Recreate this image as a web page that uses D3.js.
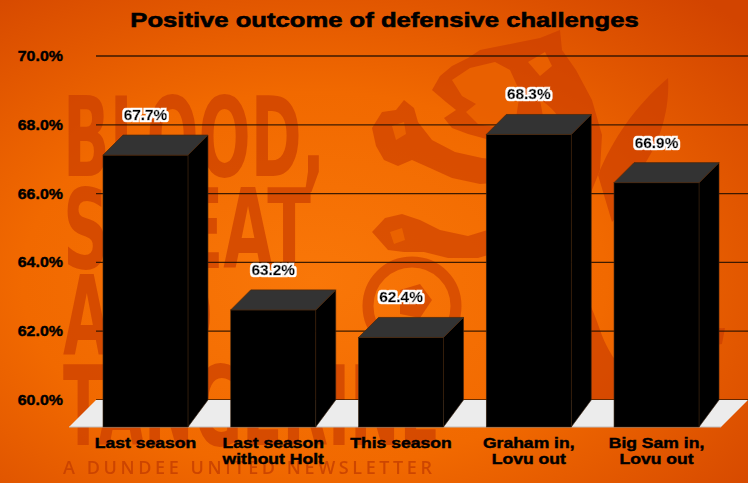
<!DOCTYPE html>
<html><head><meta charset="utf-8">
<script src="https://cdn.jsdelivr.net/npm/d3@7"></script>
<style>
html,body{margin:0;padding:0;background:#f06400;}
svg{display:block;}
</style></head>
<body>
<script>
const categories = [["Last season"], ["Last season", "without Holt"], ["This season"], ["Graham in,", "Lovu out"], ["Big Sam in,", "Lovu out"]];
const categoryKeys = ["Last season", "Last season without Holt", "This season", "Graham in, Lovu out", "Big Sam in, Lovu out"];
const values = [67.7, 63.2, 62.4, 68.3, 66.9];
const valueLabels = ["67.7%", "63.2%", "62.4%", "68.3%", "66.9%"];
const yTicks = [60, 62, 64, 66, 68, 70];
const title = "Positive outcome of defensive challenges";

const W = 748, H = 483;
const svg = d3.select("body").append("svg").attr("width", W).attr("height", H);
const defs = svg.append("defs");
const FONT = "'Liberation Sans',Arial,sans-serif";

// widen text horizontally to mimic the heavier/wider reference font
function widen(sel, f){
  sel.each(function(){
    const n = this;
    const tsp = n.querySelectorAll("tspan");
    const targets = tsp.length ? Array.from(tsp) : [n];
    targets.forEach(t=>{
      const L = t.getComputedTextLength();
      t.setAttribute("textLength", L*f);
      t.setAttribute("lengthAdjust","spacingAndGlyphs");
    });
  });
}

// white halo filter for value labels
const hf = defs.append("filter").attr("id","halo").attr("x","-20%").attr("y","-40%").attr("width","140%").attr("height","180%");
hf.append("feMorphology").attr("in","SourceAlpha").attr("operator","dilate").attr("radius",1.8).attr("result","d");
hf.append("feGaussianBlur").attr("in","d").attr("stdDeviation",0.4).attr("result","db");
hf.append("feFlood").attr("flood-color","#ffffff").attr("result","w");
hf.append("feComposite").attr("in","w").attr("in2","db").attr("operator","in").attr("result","halo");
const fm = hf.append("feMerge");
fm.append("feMergeNode").attr("in","halo");
fm.append("feMergeNode").attr("in","SourceGraphic");

// background gradient
const rg = defs.append("radialGradient").attr("id","bg").attr("cx","0.42").attr("cy","0.58").attr("r","0.78");
rg.append("stop").attr("offset","0").attr("stop-color","#f97708");
rg.append("stop").attr("offset","0.5").attr("stop-color","#f16900");
rg.append("stop").attr("offset","1").attr("stop-color","#d24400");
svg.append("rect").attr("width",W).attr("height",H).attr("fill","url(#bg)");

// watermark lion (rough silhouette)
const LC = "#c93a00";
const lion = svg.append("g").attr("fill",LC).attr("opacity",0.6);
// head + mane + neck
lion.append("path").attr("d",
 "M432,90 L440,76 L452,66 L468,58 L480,50 L500,46 L520,42 L540,38 L560,30 L562,50 L576,70 L592,100 L602,135 L600,170 L588,200 L570,225 L548,245 L525,258 L510,245 L518,215 L530,185 L528,160 L512,145 L490,140 L468,134 L452,128 L444,118 L456,110 L446,102 Z");
// raised front paw
lion.append("path").attr("d",
 "M372,128 L382,112 L396,110 L404,100 L414,108 L418,122 L432,140 L455,152 L482,158 L502,160 L505,182 L480,184 L452,178 L430,168 L412,160 L398,166 L384,160 L376,146 Z");
// lower front paw
lion.append("path").attr("d",
 "M372,232 L385,218 L402,214 L420,220 L440,230 L468,236 L494,228 L512,212 L520,230 L505,250 L478,258 L448,258 L424,252 L404,252 L388,250 Z");
// ball ring
lion.append("circle").attr("cx",412).attr("cy",306).attr("r",44).attr("fill","none").attr("stroke",LC).attr("stroke-width",11);
lion.append("path").attr("d","M400,290 L420,284 L432,300 L420,318 L400,314 Z");
// wing
lion.append("path").attr("d",
 "M598,175 C612,140 636,105 668,78 C670,110 660,140 646,162 C640,185 630,205 612,222 Z");
// body / hind legs
lion.append("path").attr("d",
 "M548,245 C575,270 590,300 600,330 C610,360 630,380 655,398 L560,400 C545,385 528,372 505,368 L520,345 C540,340 545,310 530,285 Z");
// tail
lion.append("path").attr("d",
 "M690,195 C712,225 716,265 700,295 C692,312 705,330 725,328 L722,344 C694,350 674,328 684,298 C694,270 692,240 678,212 Z");
// lighter face / mane detail patches
const lp = svg.append("g").attr("fill","#f06800").attr("opacity",0.75);
lp.append("path").attr("d","M452,80 L470,68 L495,62 L510,70 L520,92 L516,118 L500,128 L478,124 L466,112 L476,104 L462,96 Z");
lp.append("path").attr("d","M528,62 L545,52 L552,66 L540,76 Z");
lp.append("path").attr("d","M540,100 C560,110 575,140 570,175 C565,195 552,205 540,210 C548,185 550,150 540,100 Z");
lp.append("path").attr("d","M392,126 L404,122 L406,134 L396,140 Z");
lp.append("path").attr("d","M390,232 L402,228 L405,240 L394,244 Z");

// watermark text
const wm = svg.append("g").attr("fill","#cc3f00").attr("opacity",0.72)
  .style("font-family","'Liberation Sans Narrow','DejaVu Sans Condensed','Liberation Sans',sans-serif").style("font-weight","bold");
const wmLines = [["BLOOD,",176,262],["SWEAT",268,248],["AND",355,150],["TANGERINE",445,377]];
wmLines.forEach(([t,yb,w])=>{
  wm.append("text").attr("x",63).attr("y",yb).attr("font-size",110).attr("textLength",w).attr("lengthAdjust","spacingAndGlyphs").text(t);
});
svg.append("text").attr("x",63).attr("y",474).attr("font-size",18).attr("fill","#c43d00").attr("opacity",0.78)
  .style("font-family","'Open Sans','Liberation Sans',sans-serif").style("font-weight","600")
  .attr("textLength",369).attr("lengthAdjust","spacing").text("A DUNDEE UNITED NEWSLETTER");

// scales
const y = d3.scaleLinear().domain([60,70]).range([400,56]);
const x = d3.scaleBand().domain(categoryKeys).range([101.6,740.4]).paddingInner(0.335).paddingOuter(0.1675);
const dx = 20, dy = 20;           // bar depth
const floorD = 27;                // floor depth
const plotLeft = 96, plotRight = 748;
const y0 = y(60), floorFront = y0 + floorD;

// gridlines
svg.append("g").selectAll("line").data(yTicks).join("line")
  .attr("x1",plotLeft).attr("x2",plotRight).attr("y1",d=>y(d)).attr("y2",d=>y(d))
  .attr("stroke","#2a1200").attr("stroke-width",1.3).attr("opacity",0.9);

// y tick labels
const yl = svg.append("g").selectAll("text").data(yTicks).join("text")
  .attr("x",63).attr("y",d=>y(d)).attr("dy","0.35em").attr("text-anchor","end")
  .style("font-family",FONT).style("font-weight","bold").attr("font-size",14)
  .attr("fill","#000").attr("stroke","#000").attr("stroke-width",0.4)
  .text(d=>d3.format(".1f")(d)+"%");
widen(yl, 1.14);

// floor
svg.append("path")
  .attr("d",`M${plotLeft-floorD},${floorFront} L${plotLeft},${y0} L${plotRight},${y0} L${plotRight-floorD},${floorFront} Z`)
  .attr("fill","#ececec");
svg.append("line").attr("x1",plotLeft-floorD).attr("x2",plotRight-floorD).attr("y1",floorFront).attr("y2",floorFront)
  .attr("stroke","#bdbdbd").attr("stroke-width",1.2);

// bars
const bw = x.bandwidth();
const bars = svg.append("g").selectAll("g").data(values).join("g");
bars.each(function(v,i){
  const g = d3.select(this);
  const bx = x(categoryKeys[i]);          // back-left x
  const by = y(v);                         // back-top y
  const fx = bx - dx, fy = by + dy;        // front-left, front-top
  g.append("path").attr("d",`M${fx+bw},${fy} L${bx+bw},${by} L${bx+bw},${y0} L${fx+bw},${floorFront} Z`)
    .attr("fill","#000").attr("stroke","#3a2410").attr("stroke-width",0.6);
  g.append("rect").attr("x",fx).attr("y",fy).attr("width",bw).attr("height",floorFront-fy)
    .attr("fill","#000").attr("stroke","#3a2410").attr("stroke-width",0.6);
  g.append("path").attr("d",`M${fx},${fy} L${fx+bw},${fy} L${bx+bw},${by} L${bx},${by} Z`)
    .attr("fill","#333333").attr("stroke","#4a2a10").attr("stroke-width",0.8);
});

// value labels (single text each, white halo via filter)
const labG = svg.append("g").style("font-family",FONT).style("font-weight","bold").attr("font-size",14);
const vl = labG.selectAll("text").data(values).join("text")
  .attr("x",(d,i)=>x(categoryKeys[i]) - dx + bw/2).attr("y",d=>y(d)-20).attr("dy","0.35em")
  .attr("text-anchor","middle").attr("fill","#000").attr("stroke","#000").attr("stroke-width",0.4)
  .attr("filter","url(#halo)")
  .text((d,i)=>valueLabels[i]);
widen(vl, 1.1);

// category labels
const catG = svg.append("g").style("font-family",FONT).style("font-weight","bold").attr("font-size",15)
  .attr("stroke","#000").attr("stroke-width",0.45);
categories.forEach((lines,i)=>{
  const cx = x(categoryKeys[i]) - dx + bw/2;
  const t = catG.append("text").attr("x",cx).attr("y",448).attr("text-anchor","middle").attr("fill","#000");
  lines.forEach((l,j)=>t.append("tspan").attr("x",cx).attr("dy",j?16:0).text(l));
});
widen(catG.selectAll("text"), 1.17);

// title
const tt = svg.append("text").attr("x",384.5).attr("y",27).attr("text-anchor","middle")
  .style("font-family",FONT).style("font-weight","bold").attr("font-size",21)
  .attr("fill","#000").attr("stroke","#000").attr("stroke-width",0.6).text(title);
widen(tt, 1.22);
</script>
</body></html>
